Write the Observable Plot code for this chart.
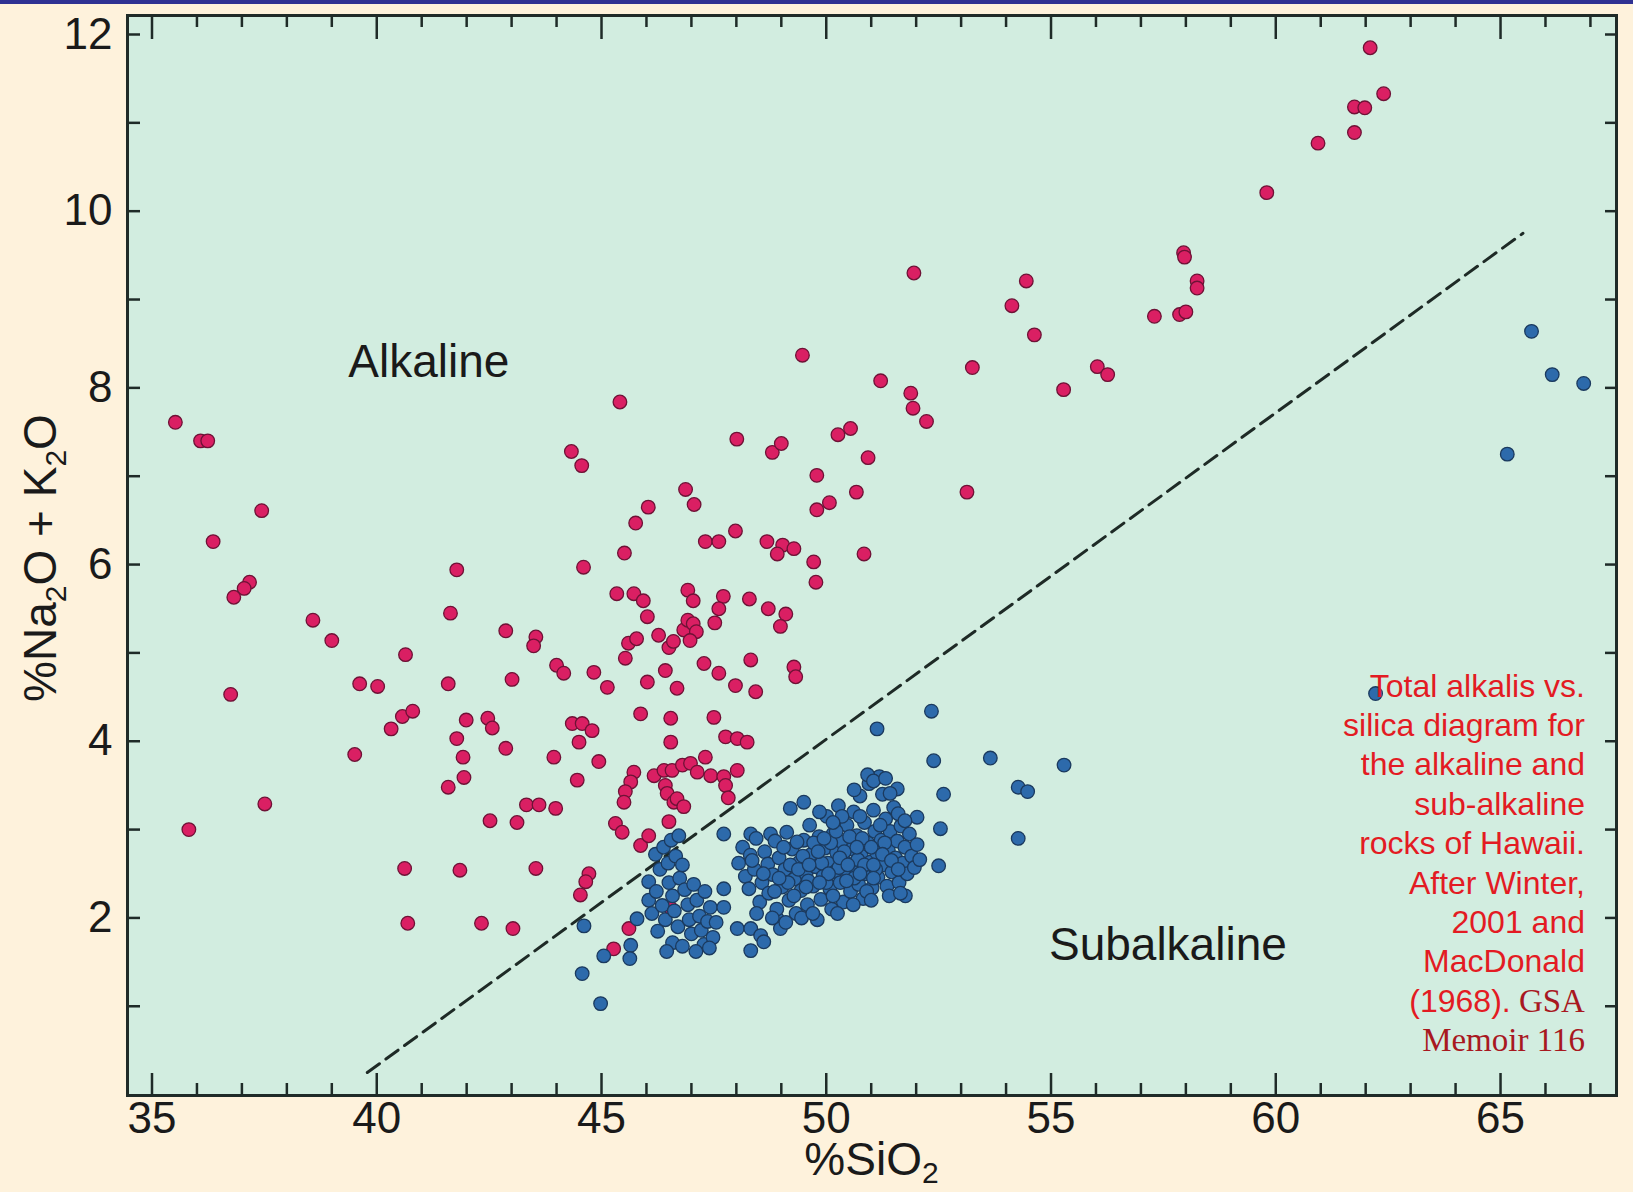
<!DOCTYPE html>
<html><head><meta charset="utf-8">
<script src="https://cdn.jsdelivr.net/npm/d3@7"></script>
<script src="https://cdn.jsdelivr.net/npm/@observablehq/plot@0.6"></script>
<style>
html,body{margin:0;padding:0;background:#fef2dc;overflow:hidden;}
#chart{position:absolute;left:0;top:0;}
#bar{position:absolute;left:0;top:0;width:1633px;height:4px;background:#2f3193;}
</style></head><body>
<div id="chart"></div><div id="bar"></div>
<script>
// ---------- data ----------
const alkaline = [
[35.52,7.61],[36.08,7.40],[36.24,7.40],[37.44,6.61],[36.36,6.26],[37.17,5.80],[37.05,5.73],[36.82,5.63],[38.58,5.37],[39.00,5.14],
[36.75,4.53],[39.62,4.65],[40.02,4.62],[40.64,4.98],[40.57,4.28],[40.80,4.34],[40.32,4.14],[39.51,3.85],[37.51,3.29],[35.82,3.00],
[40.62,2.56],[40.69,1.94],
[41.78,5.94],[41.64,5.45],[41.59,4.65],[41.99,4.24],[41.78,4.03],[41.92,3.82],[41.59,3.48],[41.94,3.59],[41.85,2.54],[42.33,1.94],
[42.47,4.26],[42.57,4.15],[42.87,5.25],[43.01,4.70],[42.87,3.92],[42.52,3.10],[43.12,3.08],[43.03,1.88],[43.54,5.18],[43.49,5.08],
[43.33,3.28],[43.61,3.28],[43.54,2.56],
[44.00,4.86],[44.16,4.77],[44.83,4.78],[45.53,4.94],[45.13,4.61],[46.02,4.67],[46.42,4.80],[46.68,4.60],[47.28,4.88],[47.61,4.77],
[47.98,4.63],[48.32,4.92],[48.43,4.56],[49.28,4.84],[49.32,4.73],[45.87,4.31],[46.54,4.26],[47.50,4.27],[44.35,4.20],[44.57,4.20],
[44.79,4.12],[44.50,3.99],[46.54,3.99],[47.76,4.05],[48.02,4.03],[48.24,3.99],[44.94,3.77],[43.94,3.82],[47.31,3.82],[45.72,3.65],
[45.65,3.54],[45.53,3.43],[45.50,3.31],[44.46,3.56],[46.17,3.61],[46.39,3.67],[46.57,3.67],[46.80,3.73],[46.98,3.75],[47.13,3.65],
[47.43,3.61],[47.72,3.60],[48.02,3.67],[46.42,3.50],[46.46,3.41],[46.61,3.31],[46.68,3.35],[46.83,3.26],[47.76,3.50],[47.82,3.36],
[43.98,3.24],[45.31,3.07],[45.46,2.97],[45.87,2.82],[46.05,2.93],[46.50,3.09],[44.72,2.50],[44.65,2.41],[44.53,2.26],[45.61,1.88],
[45.27,1.65],[46.54,2.11],
[44.33,7.28],[44.56,7.12],[44.60,5.97],[45.41,7.84],[45.51,6.13],[45.76,6.47],[46.04,6.65],[45.34,5.67],[45.72,5.67],[45.93,5.59],
[46.02,5.41],[45.60,5.11],[45.78,5.16],[46.27,5.20],[46.50,5.06],[46.60,5.13],[46.83,5.26],[46.92,5.37],[47.04,5.33],[47.11,5.24],
[46.97,5.14],[46.87,6.85],[47.06,6.68],[46.92,5.71],[47.04,5.59],[47.31,6.26],[47.61,6.26],[47.71,5.64],[47.61,5.50],[47.52,5.34],
[47.98,6.38],[48.01,7.42],[48.29,5.61],[48.71,5.50],[48.68,6.26],[48.80,7.27],[49.00,7.37],[49.03,6.22],[48.91,6.12],[49.28,6.18],
[49.10,5.44],[48.98,5.30],[49.79,7.01],[50.07,6.70],[49.79,6.62],[49.72,6.03],[49.77,5.80],[50.26,7.47],[50.54,7.54],[50.67,6.82],
[50.84,6.12],[50.93,7.21],[49.47,8.37],[51.21,8.08],[51.88,7.94],[51.93,7.77],[51.95,9.30],[52.23,7.62],
[53.13,6.82],[53.25,8.23],[54.13,8.93],[54.45,9.21],[54.63,8.60],[55.28,7.98],[56.03,8.24],[56.26,8.15],[57.30,8.81],[57.86,8.83],
[58.00,8.86],[57.95,9.53],[57.97,9.48],[58.25,9.21],[58.25,9.13],[59.80,10.21],[60.94,10.77],[61.75,11.18],[61.98,11.17],[61.75,10.89],
[62.40,11.33],[62.10,11.85]
];
const subalkaline = [
[65.69,8.64],[66.15,8.15],[66.85,8.05],[65.15,7.25],[62.22,4.54],
[55.29,3.73],[54.27,3.48],[54.48,3.43],[54.27,2.90],[53.65,3.81],
[52.34,4.34],[51.13,4.14],[52.39,3.78],[51.58,3.46],[52.61,3.40],[52.02,3.14],[52.54,3.01],[52.50,2.59],[51.76,2.25],
[44.61,1.91],[44.57,1.37],[44.98,1.03],[45.05,1.57],[45.65,1.69],[45.63,1.54],[45.79,1.99],[46.05,2.41],
[46.20,2.72],[46.38,2.80],[46.55,2.88],[46.72,2.93],[46.30,2.55],[46.48,2.62],[46.65,2.70],
[46.05,2.20],[46.12,2.05],[46.22,2.30],[46.35,2.14],[46.42,1.98],[46.50,2.40],[46.58,2.25],[46.62,2.08],[46.70,1.90],[46.74,2.45],
[46.80,2.60],[46.85,2.32],[46.92,2.15],[46.95,1.98],[47.00,1.82],[47.05,2.38],[47.12,2.20],[47.18,2.02],[47.22,1.86],[47.28,1.70],
[47.36,1.96],[47.42,2.12],[47.48,1.78],[47.55,1.95],[46.58,1.72],[46.45,1.62],[46.80,1.68],[47.10,1.62],[47.40,1.66],[46.25,1.85],
[47.30,2.30],
[47.72,2.95],[48.32,2.95],[48.76,2.95],[49.20,3.24],[49.50,3.31],[47.72,2.33],[47.72,2.12],
[48.02,1.88],[48.32,1.88],[48.54,1.80],[48.61,1.73],[48.32,1.63],[48.91,1.99],[48.98,1.88],
[48.05,2.62],[48.14,2.80],[48.20,2.47],[48.28,2.33],[48.31,2.71],[48.40,2.55],[48.44,2.90],[48.52,2.18],[48.57,2.40],[48.63,2.75],
[48.70,2.61],[48.72,2.28],[48.81,2.49],[48.86,2.87],[48.90,2.10],[48.95,2.68],[49.02,2.35],[49.08,2.55],[49.12,2.97],[49.17,2.20],
[49.24,2.78],[49.29,2.44],[49.33,2.05],[49.40,2.63],[49.44,2.31],[49.50,2.88],[49.55,2.50],[49.58,2.15],[49.63,3.05],[49.67,2.72],
[49.71,2.36],[49.76,2.58],[49.80,1.98],[49.84,2.92],[49.88,2.21],[49.93,2.47],[49.97,2.79],[50.01,3.15],[50.04,2.62],[50.08,2.33],
[50.12,2.10],[50.15,2.95],[50.19,2.52],[50.23,2.74],[50.27,3.27],[50.31,2.40],[50.35,2.86],[50.38,2.18],[50.42,2.63],[50.46,3.05],
[50.50,2.49],[50.54,2.30],[50.57,2.78],[50.61,3.20],[50.64,2.57],[50.68,2.93],[50.72,2.38],[50.75,3.38],[50.78,2.70],[50.82,2.22],
[50.85,3.08],[50.88,2.50],[50.92,2.85],[50.95,3.52],[50.98,2.63],[51.02,2.34],[51.05,3.22],[51.08,2.98],[51.12,2.74],[51.15,2.46],
[51.18,3.60],[51.22,2.88],[51.25,3.40],[51.28,2.60],[51.32,3.12],[51.35,2.36],[51.38,2.77],[51.42,2.98],[51.46,2.52],[51.50,3.25],
[51.54,2.68],[51.58,2.87],[51.62,2.40],[51.66,3.04],[51.70,2.62],[51.75,2.80],[51.80,2.50],[51.85,2.95],[51.90,2.70],[51.96,2.57],
[52.02,2.83],[52.08,2.66],[50.92,3.62],[51.05,3.55],[51.32,3.58],[50.62,3.45],[51.42,3.41],
[49.48,2.70],[49.60,2.42],[49.72,2.85],[49.90,2.62],[50.00,2.40],[50.10,2.85],[50.22,2.98],[50.28,2.57],[50.40,2.75],[50.52,2.92],
[50.62,2.45],[50.70,2.66],[50.80,2.90],[50.90,2.30],[51.00,2.80],[51.10,2.55],[51.20,3.05],[51.30,2.85],[49.35,2.86],[49.20,2.60],
[49.05,2.80],[48.85,2.30],[49.15,2.40],[49.38,2.55],[49.62,2.60],[49.82,2.75],[50.05,2.50],[50.30,2.68],[50.48,2.60],[50.68,2.80],
[50.85,2.60],[51.05,2.60],[51.25,2.72],[49.95,2.90],[50.35,3.15],[50.75,3.15],[48.60,2.50],[48.35,2.65],[48.95,2.45],[49.28,2.25],
[49.55,2.35],[49.85,2.40],[50.15,2.25],[50.45,2.42],[50.75,2.50],[51.05,2.45],[51.45,2.65],[51.60,2.55],
[48.45,2.05],[48.80,2.00],[49.10,1.95],[49.45,2.00],[49.70,2.05],[50.25,2.05],[50.60,2.15],[51.00,2.20],[51.40,2.25],[51.65,2.28],
[49.85,3.20],[50.15,3.08],[51.60,3.18],[51.75,3.10]
];
const boundarySiO2 = [39.79, 65.50];
const boundaryAlkali = [0.25, 9.75];
const xMajorTicks = [35, 40, 45, 50, 55, 60, 65];
const xMinorTicks = [36,37,38,39,41,42,43,44,46,47,48,49,51,52,53,54,56,57,58,59,61,62,63,64,66,67];
const yLabelTicks = [2, 4, 6, 8, 10, 12];
const yAllTicks = [1,2,3,4,5,6,7,8,9,10,11,12];
const regionLabels = ["Alkaline", "Subalkaline"];
const regionLabelX = [41.16, 57.60];
const regionLabelY = [8.12, 1.52];
const captionSans = ["Total alkalis vs.", "silica diagram for", "the alkaline and", "sub-alkaline", "rocks of Hawaii.", "After Winter,", "2001 and", "MacDonald", "(1968).", ""];
const captionSerif = ["", "", "", "", "", "", "", "", " GSA", "Memoir 116"];
const xTitle = ["%SiO", "2"];
const yTitle = ["%Na", "2", "O + K", "2", "O"];

// ---------- layout / style ----------
const W = 1633, H = 1192;
const mL = 127, mR = 17, mT = 15, mB = 97;
const plotW = W - mL - mR, plotH = H - mT - mB;
const sans = "'Liberation Sans', Arial, Helvetica, sans-serif";
const serif = "'Liberation Serif', 'Times New Roman', serif";
const ink = "#1f2b28";
const captionX = 66.89, captionY = 4.50, captionGap = 39.4;

const boundary = boundarySiO2.map((x, i) => ({x, y: boundaryAlkali[i]}));
const labels = regionLabels.map((t, i) => ({t, x: regionLabelX[i], y: regionLabelY[i]}));

function captionMark(index, scales, values, dim) {
  const g = d3.create("svg:g");
  const x = scales.x(captionX), y0 = scales.y(captionY);
  captionSans.forEach((s, i) => {
    const t = g.append("text").attr("x", x).attr("y", y0 + i * captionGap).attr("text-anchor", "end");
    if (s) t.append("tspan").attr("font-family", sans).attr("font-size", 32).attr("fill", "#e31b23").text(s);
    if (captionSerif[i]) t.append("tspan").attr("font-family", serif).attr("font-size", 33).attr("fill", "#a8181f").style("white-space", "pre").text(captionSerif[i]);
  });
  return g.node();
}

function titleMark(index, scales, values, dim) {
  const g = d3.create("svg:g").attr("font-family", sans).attr("fill", "#1a1a1a").attr("font-size", 46);
  const cx = dim.marginLeft + (dim.width - dim.marginLeft - dim.marginRight) / 2;
  const tx = g.append("text").attr("x", cx).attr("y", dim.height - dim.marginBottom + 80).attr("text-anchor", "middle");
  tx.append("tspan").text(xTitle[0]);
  tx.append("tspan").attr("font-size", 30).attr("dy", 8).text(xTitle[1]);
  const cy = dim.marginTop + (dim.height - dim.marginTop - dim.marginBottom) / 2 + 3;
  const ty = g.append("text").attr("transform", `translate(${dim.marginLeft - 71},${cy}) rotate(-90)`).attr("text-anchor", "middle");
  yTitle.forEach((s, i) => {
    const sp = ty.append("tspan").text(s);
    if (i % 2 === 1) sp.attr("font-size", 30).attr("dy", 10);
    else if (i > 0) sp.attr("dy", -10);
  });
  return g.node();
}

const chart = Plot.plot({
  width: W, height: H,
  marginLeft: mL, marginRight: mR, marginTop: mT, marginBottom: mB,
  x: {domain: [34.455, 67.58]},
  y: {domain: [-0.01, 12.215]},
  style: {background: "transparent", fontFamily: sans, color: "#1a1a1a", overflow: "visible"},
  marks: [
    Plot.frame({fill: "#d2ede0", stroke: "none"}),
    Plot.line(boundary, {x: "x", y: "y", stroke: "#1e2a26", strokeWidth: 3, strokeDasharray: "15,8"}),
    Plot.dot(alkaline, {x: d => d[0], y: d => d[1], r: 6.8, fill: "#da1f63", stroke: "#6e1236", strokeWidth: 1.3}),
    Plot.dot(subalkaline, {x: d => d[0], y: d => d[1], r: 6.8, fill: "#2d6aab", stroke: "#1b3a5e", strokeWidth: 1.3}),
    Plot.text(labels, {x: "x", y: "y", text: "t", fontSize: 46, lineAnchor: "bottom", textAnchor: "middle", fill: "#1a1a1a"}),
    captionMark,
    Plot.ruleX(xMajorTicks, {x: d => d, insetTop: plotH - 22, stroke: ink, strokeWidth: 2.5}),
    Plot.ruleX(xMajorTicks, {x: d => d, insetBottom: plotH - 24, stroke: ink, strokeWidth: 2.5}),
    Plot.ruleX(xMinorTicks, {x: d => d, insetTop: plotH - 12, stroke: ink, strokeWidth: 2.5}),
    Plot.ruleX(xMinorTicks, {x: d => d, insetBottom: plotH - 12, stroke: ink, strokeWidth: 2.5}),
    Plot.ruleY(yAllTicks, {y: d => d, insetRight: plotW - 13, stroke: ink, strokeWidth: 2.5}),
    Plot.ruleY(yAllTicks, {y: d => d, insetLeft: plotW - 11, stroke: ink, strokeWidth: 2.5}),
    Plot.axisX(xMajorTicks, {anchor: "bottom", tickSize: 0, tickPadding: 6, fontSize: 44, label: null, tickFormat: d => String(d)}),
    Plot.axisY(yLabelTicks, {anchor: "left", tickSize: 0, tickPadding: 15, fontSize: 44, label: null, tickFormat: d => String(d)}),
    Plot.frame({stroke: ink, strokeWidth: 3}),
    titleMark
  ]
});
document.getElementById("chart").appendChild(chart);
</script>
</body></html>
